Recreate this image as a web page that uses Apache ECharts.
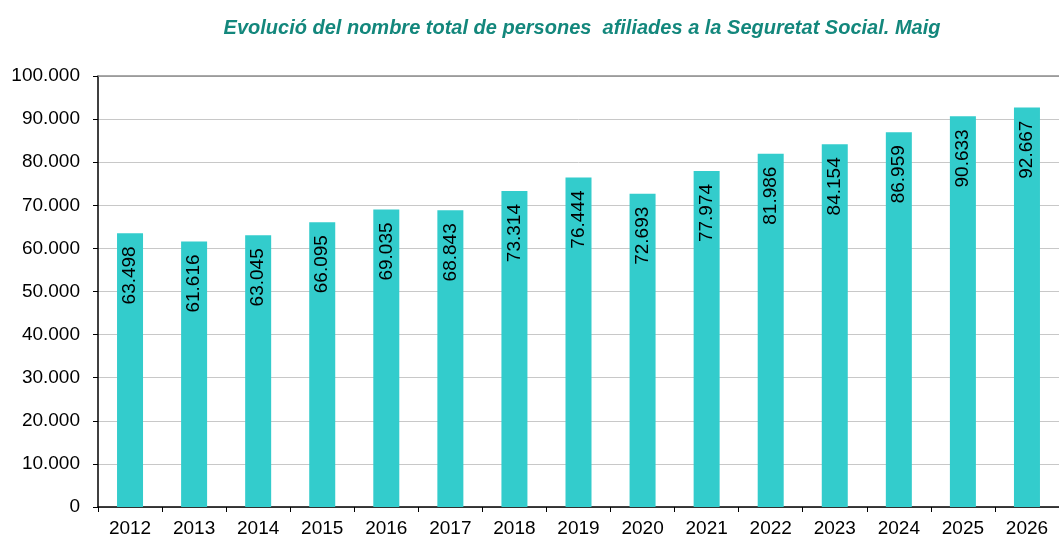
<!DOCTYPE html>
<html>
<head>
<meta charset="utf-8">
<script src="https://cdn.jsdelivr.net/npm/echarts@6/dist/echarts.min.js"></script>
<style>
  html, body { margin: 0; padding: 0; background: #ffffff; }
  #chart { width: 1059px; height: 540px; }
</style>
</head>
<body>
<div id="chart"></div>
<script>
// anys i afiliats (maig)
const years = ["2012", "2013", "2014", "2015", "2016", "2017", "2018", "2019",
  "2020", "2021", "2022", "2023", "2024", "2025", "2026"];
const afiliats = [63498, 61616, 63045, 66095, 69035, 68843, 73314, 76444,
  72693, 77974, 81986, 84154, 86959, 90633, 92667];

const fmt = v => String(v).replace(/\B(?=(\d{3})+(?!\d))/g, ".");

const chart = echarts.init(document.getElementById('chart'), null, { renderer: 'canvas' });

chart.setOption({
  backgroundColor: "#ffffff",
  animation: false,
  title: {
    text: "Evolució del nombre total de persones  afiliades a la Seguretat Social. Maig",
    left: 577,
    top: 13,
    textAlign: "center",
    textStyle: {
      fontFamily: "Liberation Sans",
      fontStyle: "italic",
      fontWeight: "bold",
      fontSize: 20,
      color: "#13877c"
    }
  },
  grid: {
    left: 98,
    top: 76,
    width: 970,
    bottom: 33
  },
  xAxis: {
    type: "category",
    data: years,
    axisLine: { lineStyle: { color: "#000000", width: 1.5 } },
    axisTick: { show: true, length: 5, lineStyle: { color: "#000000" } },
    axisLabel: {
      fontFamily: "Liberation Sans",
      fontSize: 19,
      color: "#000000",
      margin: 12
    }
  },
  yAxis: {
    type: "value",
    min: 0,
    max: 100000,
    interval: 10000,
    axisLine: { show: true, lineStyle: { color: "#000000", width: 1.5 } },
    axisTick: { show: true, length: 5, lineStyle: { color: "#000000" } },
    splitLine: { lineStyle: { color: "#c8c8c8", width: 1 } },
    axisLabel: {
      fontFamily: "Liberation Sans",
      fontSize: 19,
      color: "#000000",
      margin: 18,
      formatter: v => fmt(v)
    }
  },
  series: [{
    type: "bar",
    data: afiliats,
    barWidth: 26,
    itemStyle: { color: "#33cccc" },
    label: {
      show: true,
      position: "insideTop",
      rotate: 90,
      align: "right",
      verticalAlign: "middle",
      distance: 13,
      fontFamily: "Liberation Sans",
      fontSize: 19,
      color: "#000000",
      formatter: p => fmt(p.value)
    }
  }],
  graphic: [{
    type: "line",
    shape: { x1: 98, y1: 76, x2: 1059, y2: 76 },
    style: { stroke: "#8c8c8c", lineWidth: 1.5 },
    z: 5
  }]
});
</script>
</body>
</html>
